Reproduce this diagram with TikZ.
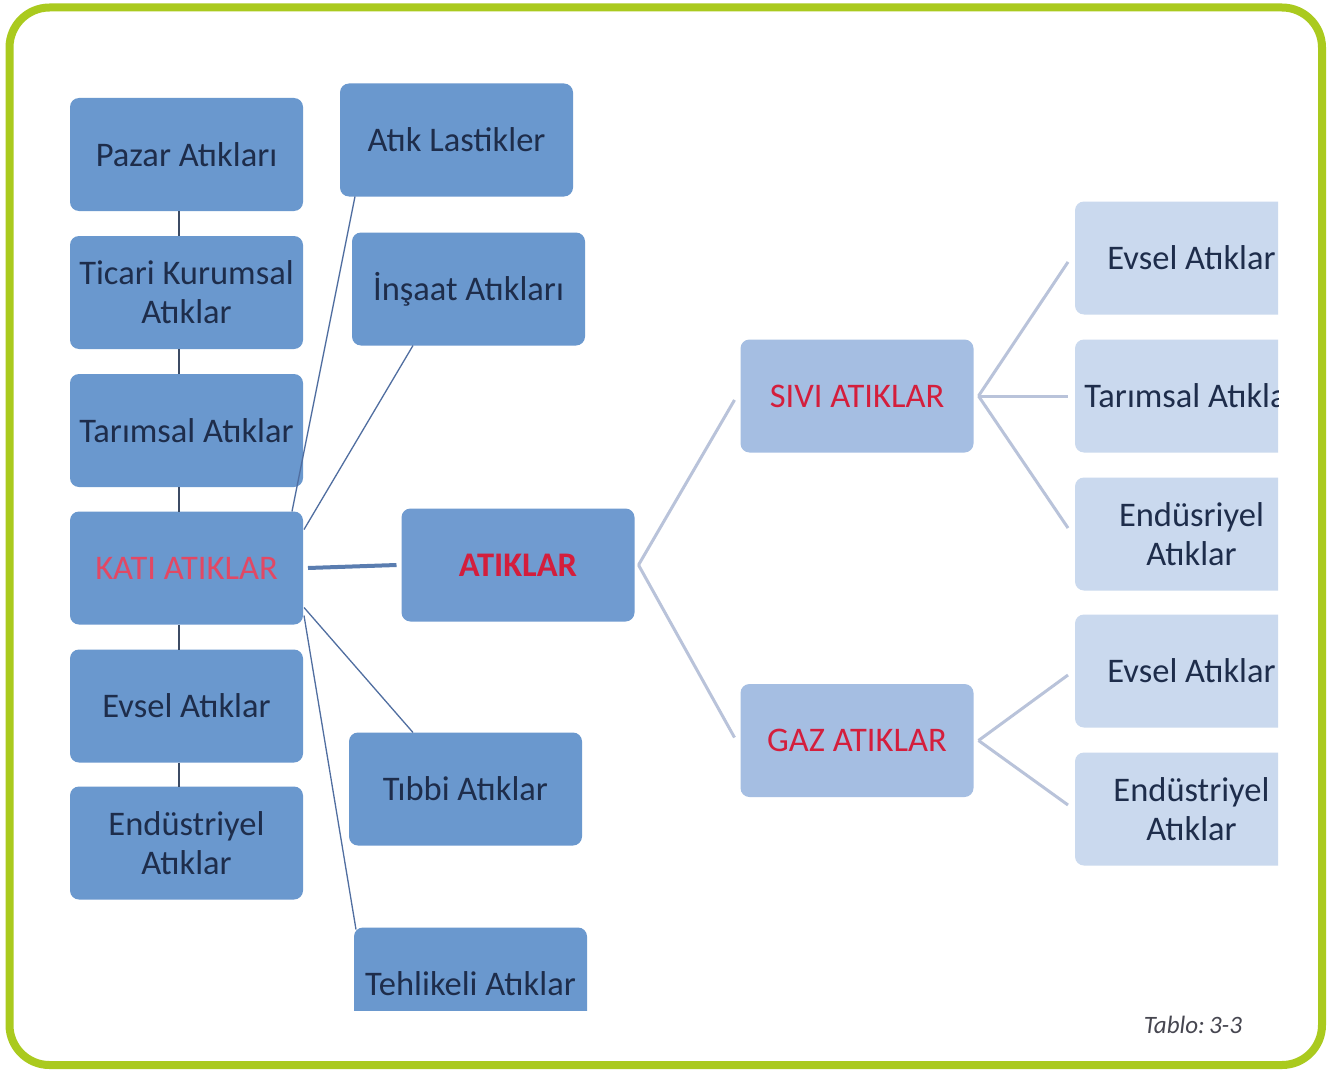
\documentclass[tikz,border=0pt]{standalone}
\usepackage{fontspec}
\setmainfont{Carlito}
\usetikzlibrary{calc}
\definecolor{dboxc}{RGB}{106,152,206}
\definecolor{mboxc}{RGB}{165,190,226}
\definecolor{lboxc}{RGB}{202,217,238}
\definecolor{frameg}{RGB}{170,202,30}
\definecolor{redt}{RGB}{212,30,60}
\definecolor{pinkt}{RGB}{226,72,100}
\definecolor{txtc}{RGB}{30,45,75}
\definecolor{darkln}{RGB}{60,75,100}
\definecolor{blueln}{RGB}{80,110,160}
\definecolor{lightln}{RGB}{185,195,218}
\begin{document}
\begin{tikzpicture}[x=1pt,y=-1pt,
  box/.style={rectangle,rounded corners=9pt,minimum width=233pt,minimum height=113pt,
    inner sep=0pt,outer sep=0pt,align=center,text=txtc,
    font=\fontsize{34.5}{39}\selectfont},
  dbox/.style={box,fill=dboxc},
  mbox/.style={box,fill=mboxc,text=redt},
  lbox/.style={box,fill=lboxc},
  vline/.style={draw=darkln,line width=1.5pt},
  thin/.style={draw=blueln,line width=1.3pt},
  lite/.style={draw=lightln,line width=3pt}]
\useasboundingbox (0,0) rectangle (1333,1070);
\fill[white] (0,0) rectangle (1333,1070);
\draw[frameg,line width=8pt,rounded corners=40pt] (9.5,7.5) rectangle (1322,1065);

% left column
\node[dbox] (pazar) at (186.5,154.5) {Pazar Atıkları};
\node[dbox] (ticari) at (186.5,292.5) {Ticari Kurumsal\\Atıklar};
\node[dbox] (tarim) at (186.5,430.5) {Tarımsal Atıklar};
\node[dbox,text=pinkt] (kati) at (186.5,568) {KATI ATIKLAR};
\node[dbox] (evsel) at (186.5,706) {Evsel Atıklar};
\node[dbox] (endus) at (186.5,843) {Endüstriyel\\Atıklar};

% second column
\node[dbox] (lastik) at (456.5,140) {Atık Lastikler};
\node[dbox] (insaat) at (468.5,289) {İnşaat Atıkları};
\node[dbox] (tibbi) at (465.5,789) {Tıbbi Atıklar};
\begin{scope}
\clip (0,0) rectangle (1333,1010);
\node[dbox] (tehlike) at (470.5,984) {Tehlikeli Atıklar};
\end{scope}

% centre
\node[dbox,fill={rgb,255:red,112;green,155;blue,208},text=redt,font=\fontsize{34.5}{39}\selectfont\bfseries] (atik) at (518,565) {ATIKLAR};
\node[mbox] (sivi) at (857,396) {SIVI ATIKLAR};
\node[mbox] (gaz) at (857,740.5) {GAZ ATIKLAR};

% right column (clipped)
\begin{scope}
\clip (0,0) rectangle (1278,1070);
\node[lbox] (r1) at (1191.5,258) {Evsel Atıklar};
\node[lbox] (r2) at (1191.5,396) {Tarımsal Atıklar};
\node[lbox] (r3) at (1191.5,534) {Endüsriyel\\Atıklar};
\node[lbox] (g1) at (1191.5,671) {Evsel Atıklar};
\node[lbox] (g2) at (1191.5,809) {Endüstriyel\\Atıklar};
\end{scope}

% left column vertical connectors
\draw[vline] (pazar.south -| 179,0) -- (ticari.north -| 179,0);
\draw[vline] (ticari.south -| 179,0) -- (tarim.north -| 179,0);
\draw[vline] (tarim.south -| 179,0) -- (kati.north -| 179,0);
\draw[vline] (kati.south -| 179,0) -- (evsel.north -| 179,0);
\draw[vline] (evsel.south -| 179,0) -- (endus.north -| 179,0);

% KATI fan
\draw[thin] ($(kati.north east)+(-11,0)$) -- ($(lastik.south west)+(15,0)$);
\draw[thin] ($(kati.north east)+(1,18)$) -- ($(insaat.south west)+(61,0)$);
\draw[thin] ($(kati.south east)+(1,-17)$) -- ($(tibbi.north west)+(64,0)$);
\draw[thin] ($(kati.south east)+(1,-9)$) -- ($(tehlike.north west)+(2,2)$);
\draw[draw={rgb,255:red,90;green,125;blue,176},line width=4pt] ($(kati.east)+(5,0)$) -- ($(atik.west)+(-5,0)$);

% ATIKLAR fan
\draw[lite] ($(atik.east)+(4,0)$) -- ($(sivi.west)+(-6,4)$);
\draw[lite] ($(atik.east)+(4,0)$) -- ($(gaz.west)+(-6,-3)$);

% SIVI / GAZ fans
\draw[lite] ($(sivi.east)+(5,0)$) -- ($(r1.west)+(-7,4)$);
\draw[lite] ($(sivi.east)+(5,0)$) -- ($(r2.west)+(-7,0)$);
\draw[lite] ($(sivi.east)+(5,0)$) -- ($(r3.west)+(-7,-6)$);
\draw[lite] ($(gaz.east)+(5,0)$) -- ($(g1.west)+(-7,4)$);
\draw[lite] ($(gaz.east)+(5,0)$) -- ($(g2.west)+(-7,-4)$);

\node[text={rgb,255:red,70;green,70;blue,80},font=\fontsize{25}{29}\selectfont\itshape] (tablo) at (1193,1025) {Tablo:\,3-3};
\end{tikzpicture}
\end{document}
